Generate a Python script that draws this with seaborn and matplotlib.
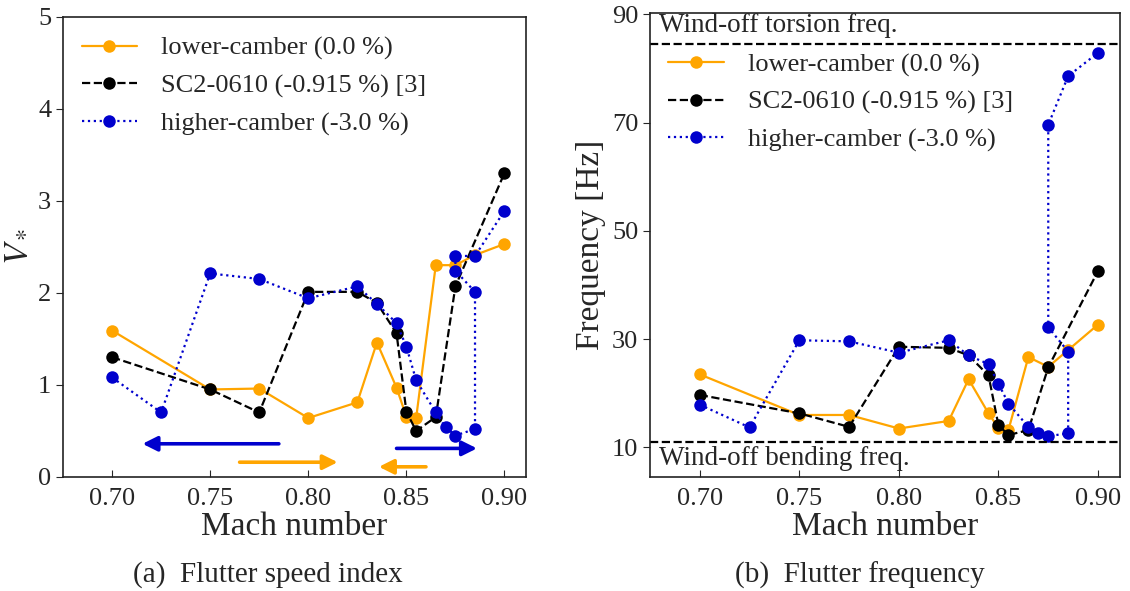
import matplotlib
matplotlib.use("Agg")
import matplotlib.pyplot as plt
import numpy as np
import pandas as pd
import seaborn as sns

# -------------------------
# data
# -------------------------
mach_lower = [0.70, 0.75, 0.775, 0.80, 0.825, 0.835, 0.845, 0.85, 0.855, 0.865, 0.875, 0.885, 0.90]
vs_lower = [1.59, 0.95, 0.96, 0.64, 0.81, 1.46, 0.97, 0.655, 0.64, 2.30, 2.30, 2.41, 2.53]
freq_lower = [23.5, 16.0, 16.0, 13.5, 14.9, 22.6, 16.3, 13.6, 13.2, 26.7, 24.9, 28.0, 32.7]

mach_sc2 = [0.70, 0.75, 0.775, 0.80, 0.825, 0.835, 0.845, 0.85, 0.855, 0.865, 0.875, 0.90]
vs_sc2 = [1.30, 0.95, 0.70, 2.01, 2.01, 1.89, 1.56, 0.71, 0.50, 0.65, 2.07, 3.30]
freq_sc2 = [19.7, 16.3, 13.8, 28.6, 28.4, 27.0, 23.3, 14.1, 12.3, 13.2, 24.8, 42.6]

mach_higher = [0.70, 0.725, 0.75, 0.775, 0.80, 0.825, 0.835, 0.845, 0.85, 0.855, 0.865,
               0.87, 0.875, 0.885, 0.885, 0.875, 0.875, 0.885, 0.90]
vs_higher = [1.08, 0.70, 2.21, 2.15, 1.94, 2.07, 1.88, 1.67, 1.415, 1.05, 0.70,
             0.54, 0.45, 0.52, 2.01, 2.24, 2.40, 2.40, 2.89]
freq_higher = [17.9, 13.7, 29.8, 29.6, 27.5, 29.8, 27.0, 25.4, 21.8, 18.1, 13.8,
               12.6, 12.1, 12.6, 27.7, 32.2, 69.6, 78.6, 82.9]

labels = ["lower-camber (0.0 %)", "SC2-0610 (-0.915 %) [3]", "higher-camber (-3.0 %)"]
colors = ["orange", "black", "mediumblue"]
styles = ["-", "--", ":"]

torsion_freq = 84.6
bending_freq = 11.0

# search-direction arrows (mach start, mach end, V*)
arrow_start = [0.785, 0.765, 0.860, 0.845]
arrow_end = [0.7155, 0.815, 0.836, 0.886]
arrow_level = [0.36, 0.16, 0.11, 0.31]
arrow_color = ["mediumblue", "orange", "orange", "mediumblue"]

mach_ticks = [0.70, 0.75, 0.80, 0.85, 0.90]
mach_ticklabels = ["0.70", "0.75", "0.80", "0.85", "0.90"]

sns.set_style("ticks")
plt.rcParams["font.family"] = ["Liberation Serif", "DejaVu Serif"]
plt.rcParams["mathtext.fontset"] = "stix"

fig = plt.figure(figsize=(11.3, 5.91), dpi=100)
ax1 = fig.add_axes([0.0558, 0.193, 0.4097, 0.779])
ax2 = fig.add_axes([0.5752, 0.1934, 0.4159, 0.7851])

series = [(mach_lower, vs_lower, freq_lower),
          (mach_sc2, vs_sc2, freq_sc2),
          (mach_higher, vs_higher, freq_higher)]

for (m, v, f), lab, col, ls in zip(series, labels, colors, styles):
    df = pd.DataFrame({"Mach": m, "Vs": v, "Freq": f})
    for ax, ycol in [(ax1, "Vs"), (ax2, "Freq")]:
        sns.lineplot(data=df, x="Mach", y=ycol, ax=ax, sort=False, estimator=None,
                     color=col, linestyle=ls, lw=1.6, marker="o", markersize=9,
                     markeredgecolor=col, markeredgewidth=0, label=lab, legend=False)

for s, e, lv, c in zip(arrow_start, arrow_end, arrow_level, arrow_color):
    ax1.annotate("", xy=(e, lv), xytext=(s, lv),
                 arrowprops=dict(arrowstyle="-|>", color=c, lw=2.6, mutation_scale=22,
                                 shrinkA=0, shrinkB=0))

ax2.axhline(torsion_freq, color="black", ls="--", lw=1.6)
ax2.axhline(bending_freq, color="black", ls="--", lw=1.6)
ax2.text(0.6795, 87.9, "Wind-off torsion freq.", fontsize=19.5, va="center", ha="left")
ax2.text(0.6795, 8.0, "Wind-off bending freq.", fontsize=19.5, va="center", ha="left")

ax1.set_ylim(0, 5)
ax1.set_yticks([0, 1, 2, 3, 4, 5])
ax2.set_ylim(4.6, 90.3)
ax2.set_yticks([10, 30, 50, 70, 90])

for ax in (ax1, ax2):
    ax.set_xlim(0.675, 0.911)
    ax.set_xticks(mach_ticks)
    ax.set_xticklabels(mach_ticklabels)
    ax.tick_params(axis="x", direction="in", length=5, labelsize=19, pad=8)
    ax.tick_params(axis="y", direction="out", length=5, labelsize=19)
    ax.set_xlabel("Mach number", fontsize=24, labelpad=1)
    for sp in ax.spines.values():
        sp.set_visible(True)
        sp.set_linewidth(1.2)
        sp.set_color("#222222")

ax1.set_ylabel(r"$V_*$", fontsize=25, labelpad=4)
ax2.set_ylabel("Frequency [Hz]", fontsize=24, labelpad=4)

ax1.legend(loc="upper left", bbox_to_anchor=(0.0, 0.997), frameon=False, fontsize=19,
           handlelength=2.1, handletextpad=0.9, labelspacing=0.52, borderaxespad=0.3)
ax2.legend(loc="upper left", bbox_to_anchor=(0.0, 0.953), frameon=False, fontsize=19,
           handlelength=2.1, handletextpad=0.9, labelspacing=0.52, borderaxespad=0.3)

fig.text(268 / 1130, 1 - 575 / 591, "(a)  Flutter speed index", fontsize=21,
         ha="center", va="center")
fig.text(860 / 1130, 1 - 575 / 591, "(b)  Flutter frequency", fontsize=21,
         ha="center", va="center")

fig.savefig("out.png", dpi=100)
plt.close(fig)
